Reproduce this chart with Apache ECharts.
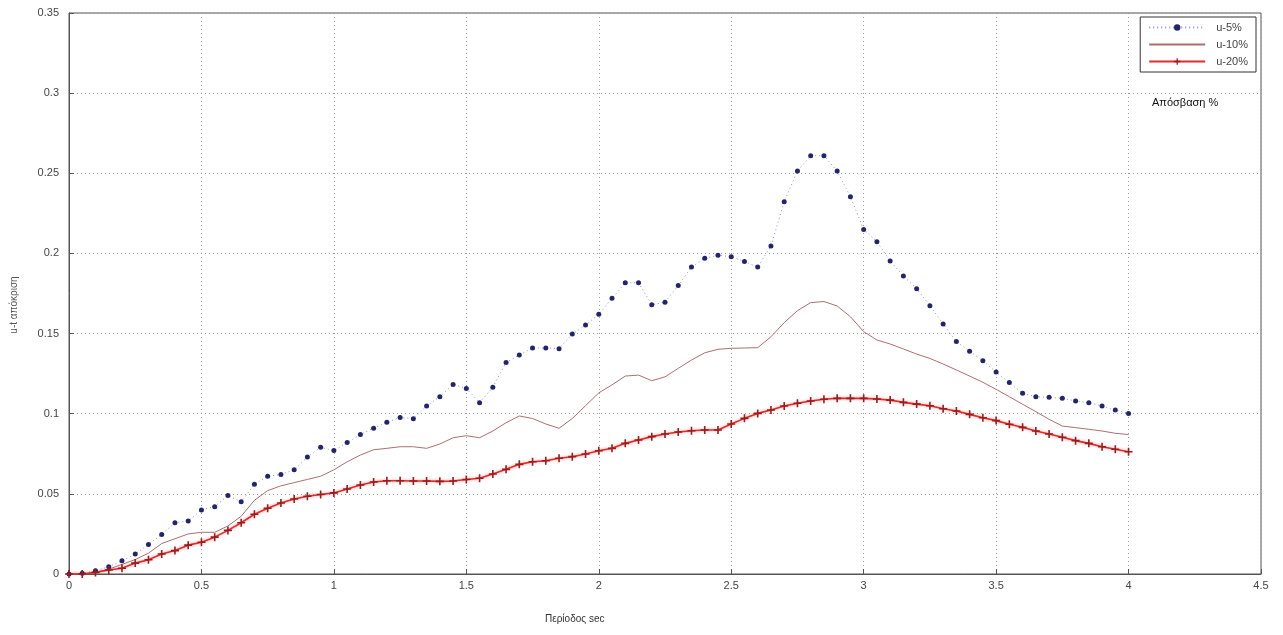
<!DOCTYPE html>
<html>
<head>
<meta charset="utf-8">
<script src="https://cdn.jsdelivr.net/npm/echarts@6/dist/echarts.min.js"></script>
<style>
html,body{margin:0;padding:0;background:#fff;}
#chart{width:1283px;height:635px;}
</style>
</head>
<body>
<div id="chart"></div>
<script>
const periods = [0,0.05,0.1,0.15,0.2,0.25,0.3,0.35,0.4,0.45,0.5,0.55,0.6,0.65,0.7,0.75,0.8,0.85,0.9,0.95,
1,1.05,1.1,1.15,1.2,1.25,1.3,1.35,1.4,1.45,1.5,1.55,1.6,1.65,1.7,1.75,1.8,1.85,1.9,1.95,
2,2.05,2.1,2.15,2.2,2.25,2.3,2.35,2.4,2.45,2.5,2.55,2.6,2.65,2.7,2.75,2.8,2.85,2.9,2.95,
3,3.05,3.1,3.15,3.2,3.25,3.3,3.35,3.4,3.45,3.5,3.55,3.6,3.65,3.7,3.75,3.8,3.85,3.9,3.95,4];

const u5 = [0,0.0005,0.002,0.0046,0.0082,0.0125,0.0184,0.0247,0.032,0.033,0.040,0.042,0.049,0.045,0.056,0.061,0.062,0.065,0.073,0.079,
0.077,0.082,0.087,0.091,0.0946,0.0977,0.0969,0.1048,0.1106,0.1183,0.1158,0.1069,0.1165,0.132,0.1366,0.141,0.141,0.1406,0.1497,0.1553,
0.162,0.172,0.1817,0.1817,0.168,0.1695,0.180,0.1915,0.197,0.1988,0.198,0.195,0.1915,0.2046,0.2323,0.2514,0.261,0.261,0.2514,0.2354,
0.215,0.2073,0.1953,0.1859,0.178,0.1674,0.156,0.145,0.139,0.133,0.126,0.1194,0.1127,0.1106,0.1102,0.1096,0.108,0.1069,0.1048,0.1023,0.1002];

const u10 = [0,0,0.001,0.003,0.006,0.009,0.013,0.019,0.022,0.025,0.026,0.026,0.030,0.036,0.046,0.052,0.055,0.057,0.059,0.061,
0.065,0.070,0.0742,0.0775,0.0784,0.0794,0.0794,0.0784,0.0811,0.085,0.0863,0.085,0.0892,0.0944,0.0986,0.097,0.0936,0.0909,0.097,0.105,
0.113,0.118,0.1235,0.1241,0.1206,0.123,0.1283,0.1335,0.138,0.1402,0.1408,0.141,0.1412,0.148,0.1568,0.1643,0.1693,0.170,0.1672,0.1605,
0.1512,0.146,0.1435,0.1404,0.1372,0.1345,0.131,0.1273,0.1235,0.1196,0.1152,0.1106,0.1059,0.1013,0.0965,0.0923,0.0913,0.0903,0.0892,0.0878,0.087];

const u20 = [0,0,0.001,0.0025,0.0036,0.0068,0.0089,0.0125,0.0146,0.018,0.0198,0.023,0.0272,0.032,0.0373,0.041,0.0443,0.0468,0.0485,0.0496,
0.0506,0.053,0.0555,0.0574,0.0582,0.0582,0.058,0.058,0.0578,0.058,0.059,0.0597,0.0624,0.0653,0.0684,0.070,0.0707,0.0722,0.0732,0.0749,
0.0769,0.0784,0.0815,0.0836,0.0857,0.0873,0.0886,0.0894,0.0898,0.0898,0.0936,0.0971,0.1002,0.1023,0.1048,0.1065,0.1079,0.109,0.1096,0.1096,
0.1096,0.1092,0.1085,0.1071,0.106,0.105,0.1031,0.1017,0.0996,0.0975,0.0957,0.0934,0.0915,0.0892,0.0873,0.0853,0.0832,0.0815,0.0794,0.0778,0.0763];

const seriesNames = ['u-5%','u-10%','u-20%'];
const xTickLabels = ['0','0.5','1','1.5','2','2.5','3','3.5','4','4.5'];
const yTickLabels = ['0','0.05','0.1','0.15','0.2','0.25','0.3','0.35'];
const xTitle = 'Περίοδος sec';
const yTitle = 'u-t απόκριση';
const legendTitle = 'Απόσβαση %';

const pairs = arr => periods.map((p,i)=>[p, arr[i]]);
const plusPath = 'path://M4,0H6V4H10V6H6V10H4V6H0V4H4Z';
const font = 'Liberation Sans, Arial, sans-serif';

const chart = echarts.init(document.getElementById('chart'));
chart.setOption({
  animation:false,
  backgroundColor:'#fff',
  grid:{left:69,right:22,top:13,bottom:61,show:true,borderColor:'#555',borderWidth:1,containLabel:false},
  xAxis:{type:'value',min:0,max:4.5,interval:0.5,
    axisLine:{show:true,lineStyle:{color:'#555'}},
    axisTick:{show:true,inside:true,length:5,lineStyle:{color:'#555'}},
    axisLabel:{color:'#444',fontFamily:font,fontSize:11,margin:6,
      formatter:v=>xTickLabels[Math.round(v/0.5)]},
    splitLine:{show:true,lineStyle:{color:'#9a9a9a',type:[1,3],width:1}}},
  yAxis:{type:'value',min:0,max:0.35,interval:0.05,
    axisLine:{show:true,lineStyle:{color:'#555'}},
    axisTick:{show:true,inside:true,length:5,lineStyle:{color:'#555'}},
    axisLabel:{color:'#444',fontFamily:font,fontSize:11,margin:10,
      formatter:v=>yTickLabels[Math.round(v/0.05)]},
    splitLine:{show:true,lineStyle:{color:'#9a9a9a',type:[1,3],width:1}}},
  legend:{orient:'vertical',right:27,top:17,itemWidth:56,itemHeight:8,itemGap:6,
    padding:[5,8,5,8],borderColor:'#333',borderWidth:1,backgroundColor:'#fff',
    textStyle:{color:'#444',fontFamily:font,fontSize:11,padding:[0,0,0,6]},
    data:[seriesNames[0],{name:seriesNames[1],itemStyle:{opacity:0}},seriesNames[2]]},
  graphic:[
    {type:'text',left:1152,top:97,style:{text:legendTitle,fill:'#111',font:'11px '+font}},
    {type:'text',left:545,top:614,style:{text:xTitle,fill:'#333',font:'10px '+font}},
    {type:'text',x:14,y:305,rotation:Math.PI/2,style:{text:yTitle,fill:'#555',font:'10px '+font,align:'center',verticalAlign:'middle'}}
  ],
  series:[
    {name:seriesNames[0],type:'line',data:pairs(u5),symbol:'circle',symbolSize:5,showSymbol:true,
      itemStyle:{color:'#24246a'},
      lineStyle:{color:'#8c8ce0',width:1,type:[1,3]}},
    {name:seriesNames[1],type:'line',data:pairs(u10),symbol:'none',smooth:false,
      itemStyle:{color:'#d08a8a'},
      lineStyle:{color:'#a87070',width:1}},
    {name:seriesNames[2],type:'line',data:pairs(u20),symbol:plusPath,symbolSize:8,showSymbol:true,
      itemStyle:{color:'#9a1c1c'},
      lineStyle:{color:'#e02c2c',width:1.6,shadowBlur:3,shadowColor:'rgba(240,80,80,0.6)'}}
  ]
});
</script>
</body>
</html>
